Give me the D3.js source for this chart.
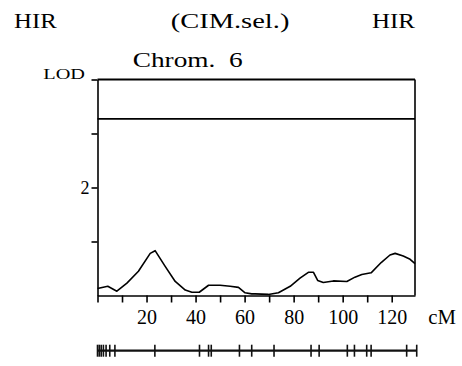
<!DOCTYPE html>
<html>
<head>
<meta charset="utf-8">
<script src="https://cdn.jsdelivr.net/npm/d3@7"></script>
<style>
  body { margin: 0; background: #fff; }
  text { font-family: "Liberation Serif", "Times New Roman", serif; fill: #000; }
</style>
</head>
<body>
<div id="canvas"></div>
<script>
// LOD profile along chromosome 6 (cM, LOD)
const positions = [0, 4.2, 7.9, 12, 16.7, 21.5, 23.5, 27.6, 31.7, 35.8, 38.5, 41.5, 45.3, 50, 54.1, 57.5, 60.2, 62.9,
  64.3, 69.7, 73.8, 78.6, 82.6, 86, 88.1, 89.8, 92.1, 96.2, 101.7, 105, 107.8, 111.6, 115.7, 119.3, 121.4, 124.7, 127.5, 129.5];
const lodValues = [0.13, 0.17, 0.08, 0.23, 0.45, 0.78, 0.83, 0.54, 0.26, 0.10, 0.06, 0.06, 0.19, 0.19, 0.17, 0.15, 0.05, 0.03,
  0.03, 0.02, 0.05, 0.17, 0.32, 0.43, 0.43, 0.28, 0.24, 0.27, 0.26, 0.34, 0.39, 0.42, 0.61, 0.75, 0.78, 0.73, 0.67, 0.59];
const markers = [0, 0.7, 1.5, 2.4, 3.5, 5.0, 7.1, 23.4, 41.6, 45.3, 46.4, 57.9, 62.9, 72.0, 87.1, 90.4,
  101.9, 104.8, 109.8, 111.6, 126.1, 130.2];
const xTicks = [0, 10, 20, 30, 40, 50, 60, 70, 80, 90, 100, 110, 120];
const xLabels = [20, 40, 60, 80, 100, 120];
const yTicks = [1, 2, 3, 4];
const yLabels = [2];
const threshold = 3.27;

const width = 462;
const height = 366;
const margin = { top: 79.5, right: 47, bottom: 70.5, left: 97.5 };
const inWidth = width - margin.left - margin.right;
const inHeight = height - margin.top - margin.bottom;

const data = positions.map((p, i) => ({ cm: p, lod: lodValues[i] }));

const svg = d3.select("#canvas").append("svg")
  .attr("width", width)
  .attr("height", height);

const xScale = d3.scaleLinear().domain([0, 129.5]).range([0, inWidth]);
const yScale = d3.scaleLinear().domain([0, 4]).range([inHeight, 0]);

const g = svg.append("g").attr("transform", `translate(${margin.left},${margin.top})`);

// titles
const title = (str, x, y, len, size) => svg.append("text")
  .attr("x", x).attr("y", y)
  .attr("font-size", size)
  .attr("textLength", len)
  .attr("lengthAdjust", "spacingAndGlyphs")
  .text(str);
title("HIR", 14, 28.3, 42.7, 21);
title("(CIM.sel.)", 170.7, 28.3, 118.7, 21);
title("HIR", 372, 28.3, 43, 21);
title("Chrom.\u00a0 6", 132.7, 66.7, 110, 21);
title("LOD", 43.3, 78.7, 41.7, 14);

// axes
const xAxis = g.append("g")
  .attr("transform", `translate(0,${inHeight})`)
  .call(d3.axisBottom(xScale)
    .tickValues(xTicks)
    .tickSize(7)
    .tickSizeOuter(0)
    .tickPadding(7)
    .tickFormat((d) => (xLabels.includes(d) ? d : "")));

const yAxis = g.append("g")
  .call(d3.axisLeft(yScale)
    .tickValues(yTicks)
    .tickSize(6)
    .tickSizeOuter(0)
    .tickPadding(2)
    .tickFormat((d) => (yLabels.includes(d) ? d : "")));

[xAxis, yAxis].forEach((a) => {
  a.selectAll("path, line").attr("stroke", "#000").attr("stroke-width", 1.6);
  a.selectAll("text").attr("font-family", "Liberation Serif, serif").attr("fill", "#000");
});
xAxis.selectAll("text").attr("font-size", 20);
yAxis.selectAll("text").attr("font-size", 18);

svg.append("text")
  .attr("x", 428.3).attr("y", 324.3)
  .attr("font-size", 20)
  .attr("textLength", 27.7)
  .attr("lengthAdjust", "spacingAndGlyphs")
  .text("cM");

// frame top and right
g.append("line")
  .attr("x1", xScale(0)).attr("x2", xScale(129.5))
  .attr("y1", yScale(4)).attr("y2", yScale(4))
  .attr("stroke", "#000").attr("stroke-width", 2);
g.append("line")
  .attr("x1", xScale(129.5)).attr("x2", xScale(129.5))
  .attr("y1", yScale(4)).attr("y2", yScale(0))
  .attr("stroke", "#000").attr("stroke-width", 1.6);

// threshold
g.append("line")
  .attr("x1", xScale(0)).attr("x2", xScale(129.5))
  .attr("y1", yScale(threshold)).attr("y2", yScale(threshold))
  .attr("stroke", "#000").attr("stroke-width", 1.6);

// LOD curve
const line = d3.line()
  .x((d) => xScale(d.cm))
  .y((d) => yScale(d.lod));

g.append("path")
  .datum(data)
  .attr("d", line)
  .attr("fill", "none")
  .attr("stroke", "#000")
  .attr("stroke-width", 1.6)
  .attr("stroke-linejoin", "round");

// marker map
const mapY = 350.7 - margin.top;
g.append("line")
  .attr("x1", xScale(0)).attr("x2", xScale(d3.max(markers)))
  .attr("y1", mapY).attr("y2", mapY)
  .attr("stroke", "#111").attr("stroke-width", 2.2);

g.selectAll("line.marker")
  .data(markers)
  .enter()
  .append("line")
  .attr("class", "marker")
  .attr("x1", (d) => xScale(d)).attr("x2", (d) => xScale(d))
  .attr("y1", mapY - 6).attr("y2", mapY + 6)
  .attr("stroke", "#111").attr("stroke-width", 1.6);
</script>
</body>
</html>
